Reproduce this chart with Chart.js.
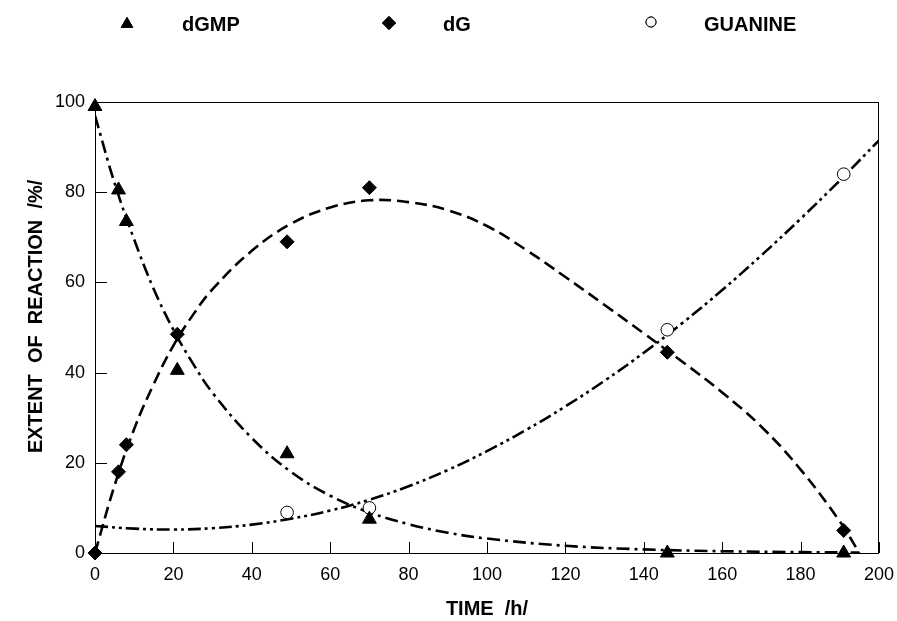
<!DOCTYPE html>
<html>
<head>
<meta charset="utf-8">
<script src="https://cdn.jsdelivr.net/npm/chart.js@4"></script>
<style>
  html, body { margin: 0; padding: 0; background: #fff; }
  #wrap { width: 897px; height: 621px; }
</style>
</head>
<body>
<div id="wrap"><canvas id="kinetics"></canvas></div>
<script>
// measured points
const timeDGMP = [0, 6, 8, 21, 49, 70, 146, 191];
const valDGMP = [99, 80.5, 73.5, 40.5, 22, 7.5, 0, 0];
const timeDG = [0, 6, 8, 21, 49, 70, 146, 191];
const valDG = [0, 18, 24, 48.5, 69, 81, 44.5, 5];
const timeGuanine = [49, 70, 146, 191];
const valGuanine = [9, 10, 49.5, 84];

// fitted curves
const fitTimeDGMP = [0, 5, 10, 15, 20, 25, 30, 40, 50, 60, 70, 80, 90, 100, 120, 140, 160, 180, 195];
const fitDGMP = [97, 82, 69.5, 58.5, 49.5, 42, 35.5, 25.5, 18, 12.7, 9, 6.4, 4.5, 3.2, 1.6, 0.8, 0.4, 0.2, 0.1];
const fitTimeDG = [0, 5, 10, 15, 20, 25, 30, 40, 50, 60, 70, 80, 90, 100, 110, 120, 130, 140, 150, 160, 170, 180, 190, 195];
const fitDG = [0, 15, 27.5, 37.5, 46, 52.8, 58.5, 67, 73, 76.6, 78.2, 77.8, 76, 72.5, 67.2, 61.2, 55, 48.7, 42.3, 35.6, 28, 18.5, 7, 0];
const fitTimeGuanine = [0, 10, 20, 30, 40, 50, 60, 70, 80, 90, 100, 110, 120, 130, 140, 150, 160, 170, 180, 190, 200];
const fitGuanine = [6, 5.4, 5.2, 5.5, 6.3, 7.6, 9.4, 11.8, 14.8, 18.4, 22.6, 27.3, 32.5, 38.2, 44.4, 51.1, 58.3, 66, 74.1, 82.6, 91.5];

const xTicks = [0, 20, 40, 60, 80, 100, 120, 140, 160, 180, 200];
const yTicks = [0, 20, 40, 60, 80, 100];

const toXY = (xs, ys) => xs.map((x, i) => ({ x: x, y: ys[i] }));

const FONT = "'Liberation Sans', Arial, sans-serif";

function markerSet(label, xs, ys, style, radius, fill) {
    return {
        label: label,
        data: toXY(xs, ys),
        showLine: false,
        pointStyle: style,
        pointRadius: radius,
        pointHoverRadius: radius,
        pointBackgroundColor: fill,
        pointBorderColor: '#000',
        pointBorderWidth: 1,
        clip: false,
        isMarker: true
    };
}

function curveSet(xs, ys, dash) {
    return {
        data: toXY(xs, ys),
        showLine: true,
        borderColor: '#000',
        borderWidth: 2.6,
        borderDash: dash,
        borderCapStyle: 'butt',
        tension: 0.4,
        pointRadius: 0,
        pointHoverRadius: 0,
        fill: false
    };
}

// inward ticks + frame
const framePlugin = {
    id: 'frame',
    beforeDatasetsDraw(chart) {
        const { ctx, chartArea: a, scales } = chart;
        ctx.save();
        ctx.strokeStyle = '#000';
        ctx.lineWidth = 1;
        ctx.strokeRect(a.left + 0.5, a.top + 0.5, a.right - a.left - 1, a.bottom - a.top);
        ctx.beginPath();
        xTicks.forEach(v => {
            const px = Math.round(scales.x.getPixelForValue(v)) + 0.5;
            ctx.moveTo(px, a.bottom);
            ctx.lineTo(px, a.bottom - 11);
        });
        yTicks.forEach(v => {
            const py = Math.round(scales.y.getPixelForValue(v)) + 0.5;
            ctx.moveTo(a.left, py);
            ctx.lineTo(a.left + 12, py);
        });
        ctx.stroke();
        ctx.restore();
    }
};

// legend row across the top
const legendSpots = [
    { mark: 127, text: 182, y: 24, r: 6.5 },
    { mark: 389, text: 443, y: 23, r: 6.5 },
    { mark: 651, text: 704, y: 22, r: 5 }
];
const legendPlugin = {
    id: 'topLegend',
    afterDraw(chart) {
        const ctx = chart.ctx;
        const markers = chart.data.datasets.filter(d => d.isMarker);
        ctx.save();
        markers.forEach((ds, i) => {
            const s = legendSpots[i];
            ctx.fillStyle = ds.pointBackgroundColor;
            ctx.strokeStyle = '#000';
            ctx.lineWidth = 1;
            Chart.helpers.drawPoint(ctx, { pointStyle: ds.pointStyle, radius: s.r, rotation: 0, borderWidth: 1 }, s.mark, s.y);
            ctx.fill();
            ctx.stroke();
            ctx.fillStyle = '#000';
            ctx.font = 'bold 20px ' + FONT;
            ctx.textBaseline = 'middle';
            ctx.textAlign = 'left';
            ctx.fillText(ds.label, s.text, 25);
        });
        ctx.restore();
    }
};

new Chart(document.getElementById('kinetics').getContext('2d'), {
    type: 'scatter',
    data: {
        datasets: [
            markerSet('dGMP', timeDGMP, valDGMP, 'triangle', 8, '#000'),
            markerSet('dG', timeDG, valDG, 'rectRot', 7, '#000'),
            markerSet('GUANINE', timeGuanine, valGuanine, 'circle', 6.3, '#fff'),
            curveSet(fitTimeDGMP, fitDGMP, [13, 5, 3, 5]),
            curveSet(fitTimeDG, fitDG, [12, 6]),
            curveSet(fitTimeGuanine, fitGuanine, [13, 4, 3, 4, 3, 4])
        ]
    },
    options: {
        responsive: true,
        maintainAspectRatio: false,
        animation: false,
        layout: { padding: { top: 102, right: 18, left: 0, bottom: 0 } },
        plugins: {
            legend: { display: false },
            tooltip: { enabled: false }
        },
        scales: {
            x: {
                type: 'linear',
                min: 0,
                max: 200,
                afterFit: s => { s.height = 68; s.paddingLeft = 0; s.paddingRight = 0; },
                afterBuildTicks: s => { s.ticks = xTicks.map(v => ({ value: v })); },
                grid: { display: false, drawTicks: false },
                border: { display: false },
                ticks: { color: '#000', padding: 11, maxRotation: 0, font: { family: FONT, size: 18 } },
                title: {
                    display: true,
                    text: 'TIME  /h/',
                    color: '#000',
                    padding: { top: 0, bottom: 0 },
                    font: { family: FONT, size: 20, weight: 'bold' }
                }
            },
            y: {
                type: 'linear',
                min: 0,
                max: 100,
                afterFit: s => { s.width = 95; s.paddingTop = 0; s.paddingBottom = 0; },
                afterBuildTicks: s => { s.ticks = yTicks.map(v => ({ value: v })); },
                grid: { display: false, drawTicks: false },
                border: { display: false },
                ticks: { color: '#000', padding: 10, font: { family: FONT, size: 18 } },
                title: {
                    display: true,
                    text: '    EXTENT  OF  REACTION  /%/',
                    color: '#000',
                    padding: { top: 24, bottom: 0 },
                    font: { family: FONT, size: 20, weight: 'bold' }
                }
            }
        }
    },
    plugins: [framePlugin, legendPlugin]
});
</script>
</body>
</html>
